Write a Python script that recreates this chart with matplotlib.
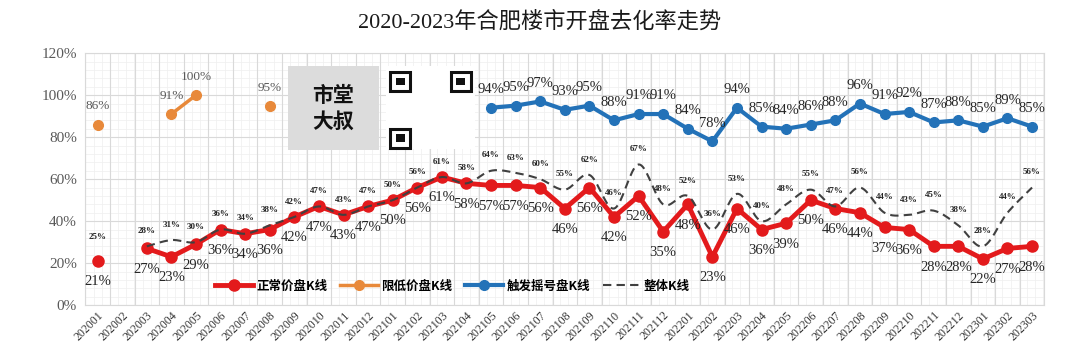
import matplotlib
matplotlib.use("Agg")
import matplotlib.pyplot as plt
import numpy as np
from matplotlib.patches import Rectangle
from matplotlib.ticker import MultipleLocator, FuncFormatter

plt.rcParams["font.family"] = ["Liberation Serif", "Noto Sans CJK SC"]

months = ["202001", "202002", "202003", "202004", "202005", "202006", "202007",
          "202008", "202009", "202010", "202011", "202012", "202101", "202102",
          "202103", "202104", "202105", "202106", "202107", "202108", "202109",
          "202110", "202111", "202112", "202201", "202202", "202203", "202204",
          "202205", "202206", "202207", "202208", "202209", "202210", "202211",
          "202212", "202301", "202302", "202303"]

normal = [21, None, 27, 23, 29, 36, 34, 36, 42, 47, 43, 47, 50, 56, 61, 58, 57, 57,
          56, 46, 56, 42, 52, 35, 48, 23, 46, 36, 39, 50, 46, 44, 37, 36, 28, 28,
          22, 27, 28]
limited = [86, None, None, 91, 100, None, None, 95] + [None] * 31
lottery = [None] * 16 + [94, 95, 97, 93, 95, 88, 91, 91, 84, 78, 94, 85, 84, 86,
                         88, 96, 91, 92, 87, 88, 85, 89, 85]
overall = [25, None, 28, 31, 30, 36, 34, 38, 42, 47, 43, 47, 50, 56, 61, 58, 64,
           63, 60, 55, 62, 46, 67, 48, 52, 36, 53, 40, 48, 55, 47, 56, 44, 43, 45,
           38, 28, 44, 56]

RED = "#E31A1C"
ORANGE = "#E8893A"
BLUE = "#2372B8"
DASH = "#404040"


def to_arr(vals):
    return np.array([np.nan if v is None else v for v in vals], dtype=float)


def smooth_segments(x, y, n=20):
    # Catmull-Rom through each run of consecutive points (like Excel's smoothed line)
    segs = []
    run = []
    for xi, yi in zip(x, y):
        if np.isnan(yi):
            if len(run) > 1:
                segs.append(run)
            run = []
        else:
            run.append((xi, yi))
    if len(run) > 1:
        segs.append(run)
    out = []
    for run in segs:
        p = np.array(run)
        p = np.vstack([p[0], p, p[-1]])
        xs, ys = [], []
        for i in range(1, len(p) - 2):
            p0, p1, p2, p3 = p[i - 1], p[i], p[i + 1], p[i + 2]
            t = np.linspace(0, 1, n)[:, None]
            c = 0.5 * ((2 * p1) + (-p0 + p2) * t + (2 * p0 - 5 * p1 + 4 * p2 - p3) * t ** 2
                       + (-p0 + 3 * p1 - 3 * p2 + p3) * t ** 3)
            xs.extend(c[:, 0])
            ys.extend(c[:, 1])
        out.append((np.array(xs), np.array(ys)))
    return out


x = np.arange(len(months))
y_norm = to_arr(normal)
y_lim = to_arr(limited)
y_lot = to_arr(lottery)
y_all = to_arr(overall)

fig = plt.figure(figsize=(10.8, 3.59), dpi=100)
ax = fig.add_axes([0.079, 0.150, 0.888, 0.702])

ax.set_xlim(-0.5, len(months) - 0.5)
ax.set_ylim(0, 120)

# grid
ax.set_xticks(x)
ax.yaxis.set_major_locator(MultipleLocator(20))
ax.grid(False)
for xv in np.arange(-0.5, len(months), 0.333):
    ax.axvline(xv, color="#efefef", lw=0.5, zorder=0)
for yv in range(0, 121, 4):
    ax.axhline(yv, color="#efefef", lw=0.5, zorder=0)
for xv in np.arange(-0.5, len(months), 1.0):
    ax.axvline(xv, color="#d9d9d9", lw=0.8, zorder=0)
for yv in range(0, 121, 20):
    ax.axhline(yv, color="#d9d9d9", lw=0.8, zorder=0)

ax.tick_params(which="both", length=0)
ax.yaxis.set_major_formatter(FuncFormatter(lambda v, p: f"{int(v)}%"))
ax.tick_params(axis="y", labelsize=11, labelcolor="#595959", pad=6)
ax.set_xticklabels(months, rotation=45, ha="right", rotation_mode="anchor",
                   fontsize=8.5, color="#333333")
ax.tick_params(axis="x", pad=3)
for s in ax.spines.values():
    s.set_color("#d9d9d9")
    s.set_linewidth(0.8)

# logo box (watermark image in the reference)
ax.add_patch(Rectangle((0.211, 0.615), 0.095, 0.335, transform=ax.transAxes,
                       facecolor="#dcdcdc", edgecolor="none", zorder=1))
ax.text(0.2585, 0.78, "市堂\n大叔", transform=ax.transAxes, ha="center", va="center",
        fontsize=15, fontweight="bold", family="Noto Sans CJK SC", linespacing=1.25,
        color="#111111", zorder=2)
ax.add_patch(Rectangle((0.314, 0.62), 0.092, 0.33, transform=ax.transAxes,
                       facecolor="white", edgecolor="none", zorder=1))
for fx, fy in [(0.318, 0.85), (0.381, 0.85), (0.318, 0.625)]:
    ax.add_patch(Rectangle((fx, fy), 0.021, 0.075, transform=ax.transAxes,
                           facecolor="white", edgecolor="#111111", lw=2.2, zorder=2))
    ax.add_patch(Rectangle((fx + 0.006, fy + 0.022), 0.009, 0.031, transform=ax.transAxes,
                           facecolor="#111111", edgecolor="none", zorder=2))

# overall dashed smoothed line
for i, (sx, sy) in enumerate(smooth_segments(x, y_all)):
    ax.plot(sx, sy, ls=(0, (4, 2.5)), color=DASH, lw=1.5, zorder=4,
            label="整体K线" if i == 0 else None)

ax.plot(x, y_norm, color=RED, lw=3.5, marker="o", ms=8, zorder=3, label="正常价盘K线")
ax.plot(x, y_lim, color=ORANGE, lw=2.5, marker="o", ms=7, zorder=3, label="限低价盘K线")
ax.plot(x, y_lot, color=BLUE, lw=3, marker="o", ms=7, zorder=3, label="触发摇号盘K线")

for xi, v in zip(x, normal):
    if v is not None:
        ax.annotate(f"{v}%", (xi, v), xytext=(0, -15), textcoords="offset points",
                    ha="center", va="center", fontsize=10.5, color="#262626", zorder=6)
for xi, v in zip(x, overall):
    if v is not None:
        ax.annotate(f"{v}%", (xi, v), xytext=(0, 11), textcoords="offset points",
                    ha="center", va="center", fontsize=6.5, fontweight="bold",
                    color="#262626", zorder=6)
for xi, v in zip(x, lottery):
    if v is not None:
        ax.annotate(f"{v}%", (xi, v), xytext=(0, 13), textcoords="offset points",
                    ha="center", va="center", fontsize=10.5, color="#262626", zorder=6)
for xi, v in zip(x, limited):
    if v is not None:
        ax.annotate(f"{v}%", (xi, v), xytext=(0, 13), textcoords="offset points",
                    ha="center", va="center", fontsize=9.5, color="#595959", zorder=6)

handles, labels = ax.get_legend_handles_labels()
order = [labels.index(k) for k in ["正常价盘K线", "限低价盘K线", "触发摇号盘K线", "整体K线"]]
leg = ax.legend([handles[i] for i in order], [labels[i] for i in order],
                loc="center", bbox_to_anchor=(0.383, 0.075), ncol=4, frameon=False,
                handlelength=3.0, columnspacing=1.0, handletextpad=0.3,
                prop={"family": ["Noto Sans CJK SC"], "size": 9, "weight": "bold"})
leg.set_zorder(7)

fig.text(0.5, 0.94, "2020-2023年合肥楼市开盘去化率走势", ha="center", va="center",
         fontsize=16, color="#1a1a1a")

fig.savefig("out.png", dpi=100)
